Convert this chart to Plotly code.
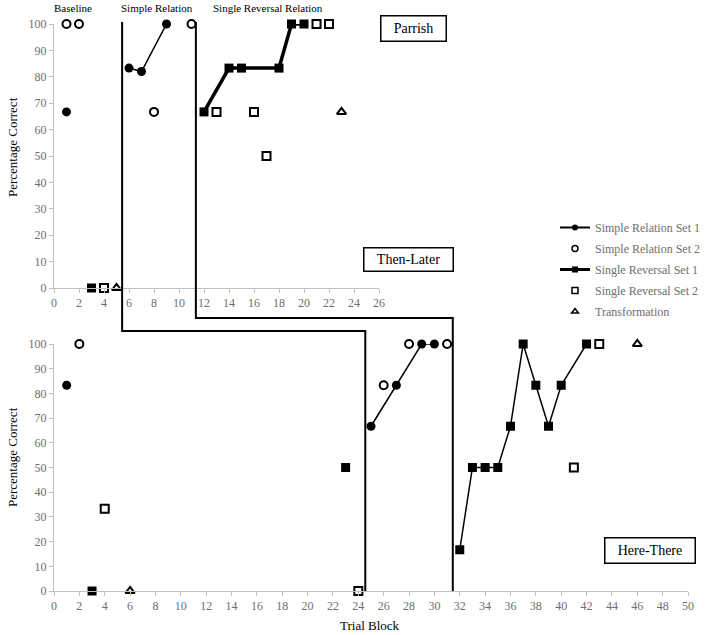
import plotly.graph_objects as go

SERIF = "Liberation Serif, Times New Roman, serif"

# ---------------- data ----------------
# Top panel: Parrish (Then-Later)
top_sr1_x = [1, None, 6, 7, 9]
top_sr1_y = [66.7, None, 83.3, 82, 100]
top_sr2_x = [1, 2, 8, 11]
top_sr2_y = [100, 100, 66.7, 100]
top_rv1_x = [3, None, 12, 14, 15, 18, 19, 20]
top_rv1_y = [0, None, 66.7, 83.3, 83.3, 83.3, 100, 100]
top_rv2_x = [4, 13, 16, 17, 21, 22]
top_rv2_y = [0, 66.7, 66.7, 50, 100, 100]
top_tr_x = [5, 23]
top_tr_y = [0, 66.7]

# Bottom panel: Here-There
bot_sr1_x = [1, None, 25, 27, 29, 30]
bot_sr1_y = [83.3, None, 66.7, 83.3, 100, 100]
bot_sr2_x = [2, 26, 28, 31]
bot_sr2_y = [100, 83.3, 100, 100]
bot_rv1_x = [3, None, 23, None, 32, 33, 34, 35, 36, 37, 38, 39, 40, 42]
bot_rv1_y = [0, None, 50, None, 16.7, 50, 50, 50, 66.7, 100, 83.3, 66.7, 83.3, 100]
bot_rv2_x = [4, 24, 41, 43]
bot_rv2_y = [33.3, 0, 50, 100]
bot_tr_x = [6, 46]
bot_tr_y = [0, 100]

# phase-change positions (trial block) in each panel
phase_top = [5.45, 11.35]
phase_bot = [24.55, 31.45]

top_xticks = list(range(0, 27, 2))
bot_xticks = list(range(0, 51, 2))
y_ticks = list(range(0, 101, 10))

# ---------------- layout geometry (window pixels) ----------------
OFF = 0            # page body margin removed by post_script
W, H = 708, 635
TOP_X = (54, 379)
TOP_Y = (288, 24)   # pixel of y=0, y=100
BOT_X = (54, 688)
BOT_Y = (591, 344)


def px(v):
    return (v - OFF) / W


def py(v):
    return 1 - (v - OFF) / H


def top_xp(v):
    return px(TOP_X[0] + (TOP_X[1] - TOP_X[0]) * v / 26)


def bot_xp(v):
    return px(BOT_X[0] + (BOT_X[1] - BOT_X[0]) * v / 50)


def top_yp(v):
    return py(TOP_Y[0] + (TOP_Y[1] - TOP_Y[0]) * v / 100)


def bot_yp(v):
    return py(BOT_Y[0] + (BOT_Y[1] - BOT_Y[0]) * v / 100)


fig = go.Figure()

styles = {
    "sr1": dict(mode="lines+markers", marker=dict(symbol="circle", size=9, color="black"),
                line=dict(color="black", width=1.5)),
    "sr2": dict(mode="markers", marker=dict(symbol="circle-open", size=8, color="black",
                                             line=dict(width=2, color="black"))),
    "rv1_top": dict(mode="lines+markers", marker=dict(symbol="square", size=9, color="black"),
                    line=dict(color="black", width=3.5)),
    "rv1_bot": dict(mode="lines+markers", marker=dict(symbol="square", size=9, color="black"),
                    line=dict(color="black", width=1.5)),
    "rv2": dict(mode="markers", marker=dict(symbol="square-open", size=8, color="black",
                                             line=dict(width=2, color="black"))),
    "tr": dict(mode="markers", marker=dict(symbol="triangle-up-open", size=8, color="black",
                                            line=dict(width=2, color="black"))),
}

top_series = [
    ("Simple Relation Set 1", top_sr1_x, top_sr1_y, "sr1"),
    ("Simple Relation Set 2", top_sr2_x, top_sr2_y, "sr2"),
    ("Single Reversal Set 1", top_rv1_x, top_rv1_y, "rv1_top"),
    ("Single Reversal Set 2", top_rv2_x, top_rv2_y, "rv2"),
    ("Transformation", top_tr_x, top_tr_y, "tr"),
]
bot_series = [
    ("Simple Relation Set 1", bot_sr1_x, bot_sr1_y, "sr1"),
    ("Simple Relation Set 2", bot_sr2_x, bot_sr2_y, "sr2"),
    ("Single Reversal Set 1", bot_rv1_x, bot_rv1_y, "rv1_bot"),
    ("Single Reversal Set 2", bot_rv2_x, bot_rv2_y, "rv2"),
    ("Transformation", bot_tr_x, bot_tr_y, "tr"),
]

for name, xs, ys, st in top_series:
    fig.add_trace(go.Scatter(x=xs, y=ys, name=name, xaxis="x", yaxis="y",
                             cliponaxis=False, connectgaps=False, showlegend=False,
                             **styles[st]))
for name, xs, ys, st in bot_series:
    fig.add_trace(go.Scatter(x=xs, y=ys, name=name, xaxis="x2", yaxis="y2",
                             cliponaxis=False, connectgaps=False, showlegend=False,
                             **styles[st]))

# legend entries (smaller symbols like the original key)
legend_styles = [
    ("Simple Relation Set 1", dict(mode="lines+markers", marker=dict(symbol="circle", size=6, color="black"),
                                   line=dict(color="black", width=2))),
    ("Simple Relation Set 2", dict(mode="markers", marker=dict(symbol="circle-open", size=6, color="black",
                                                               line=dict(width=1.5, color="black")))),
    ("Single Reversal Set 1", dict(mode="lines+markers", marker=dict(symbol="square", size=6, color="black"),
                                   line=dict(color="black", width=3))),
    ("Single Reversal Set 2", dict(mode="markers", marker=dict(symbol="square-open", size=6, color="black",
                                                               line=dict(width=1.5, color="black")))),
    ("Transformation", dict(mode="markers", marker=dict(symbol="triangle-up-open", size=6, color="black",
                                                        line=dict(width=1.5, color="black")))),
]
for i, (name, st) in enumerate(legend_styles):
    fig.add_trace(go.Scatter(x=[None], y=[None], name=name, xaxis="x", yaxis="y",
                             legendgroup=f"g{i}", showlegend=True, **st))

axis_common = dict(showline=True, linecolor="#bfbfbf", linewidth=1, ticks="outside",
                   ticklen=4, tickcolor="#bfbfbf", showgrid=False, zeroline=False,
                   tickfont=dict(family=SERIF, size=12, color="#6e6e6e"), fixedrange=True)

fig.update_layout(
    width=W, height=H,
    margin=dict(l=0, r=0, t=0, b=0, autoexpand=False),
    paper_bgcolor="white", plot_bgcolor="white",
    xaxis=dict(domain=[px(TOP_X[0]), px(TOP_X[1])], range=[0, 26], tickvals=top_xticks,
               anchor="y", **axis_common),
    yaxis=dict(domain=[py(TOP_Y[0]), py(TOP_Y[1])], range=[0, 100], tickvals=y_ticks,
               anchor="x", **axis_common),
    xaxis2=dict(domain=[px(BOT_X[0]), px(BOT_X[1])], range=[0, 50], tickvals=bot_xticks,
                anchor="y2", **axis_common),
    yaxis2=dict(domain=[py(BOT_Y[0]), py(BOT_Y[1])], range=[0, 100], tickvals=y_ticks,
                anchor="x2", **axis_common),
    legend=dict(x=px(555), y=py(213), xanchor="left", yanchor="top",
                font=dict(family=SERIF, size=12, color="#6e6e6e"),
                bgcolor="rgba(0,0,0,0)", itemsizing="trace", tracegroupgap=2),
    font=dict(family=SERIF, color="black"),
)

# phase-change lines
levels = [331, 318]
for ptop, pbot, lev in zip(phase_top, phase_bot, levels):
    x1 = top_xp(ptop)
    x2 = bot_xp(pbot)
    path = (f"M {x1},{top_yp(100.8)} L {x1},{py(lev)} L {x2},{py(lev)} L {x2},{bot_yp(0)}")
    fig.add_shape(type="path", path=path, xref="paper", yref="paper",
                  line=dict(color="black", width=2))

ann = []
# phase labels
for label, xc in [("Baseline", 1.5), ("Simple Relation", 8.2), ("Single Reversal Relation", 17.1)]:
    ann.append(dict(text=label, x=xc, xref="x", y=py(8), yref="paper", showarrow=False,
                    font=dict(family=SERIF, size=11, color="black"),
                    xanchor="center", yanchor="middle"))
# boxed labels
for label, cx, cy, bw, bh in [("Parrish", 413, 28, 62, 22), ("Then-Later", 408, 259, 86, 20),
                              ("Here-There", 650, 550, 87, 22)]:
    ann.append(dict(text=label, x=px(cx), y=py(cy), xref="paper", yref="paper",
                    showarrow=False, font=dict(family=SERIF, size=14, color="black"),
                    bordercolor="black", borderwidth=1.5, borderpad=1,
                    width=bw, height=bh, bgcolor="white",
                    xanchor="center", yanchor="middle"))
# axis titles
ann.append(dict(text="Percentage Correct", x=px(12), y=py(147), xref="paper", yref="paper",
                textangle=-90, showarrow=False, font=dict(family=SERIF, size=13, color="black"),
                xanchor="center", yanchor="middle"))
ann.append(dict(text="Percentage Correct", x=px(12), y=py(457), xref="paper", yref="paper",
                textangle=-90, showarrow=False, font=dict(family=SERIF, size=13, color="black"),
                xanchor="center", yanchor="middle"))
ann.append(dict(text="Trial Block", x=px(370), y=py(625), xref="paper", yref="paper",
                showarrow=False, font=dict(family=SERIF, size=13, color="black"),
                xanchor="center", yanchor="middle"))
fig.update_layout(annotations=ann)

fig.write_html("out.html", config={"displayModeBar": False},
               post_script="document.body.style.margin='0';document.body.style.overflow='hidden';")
